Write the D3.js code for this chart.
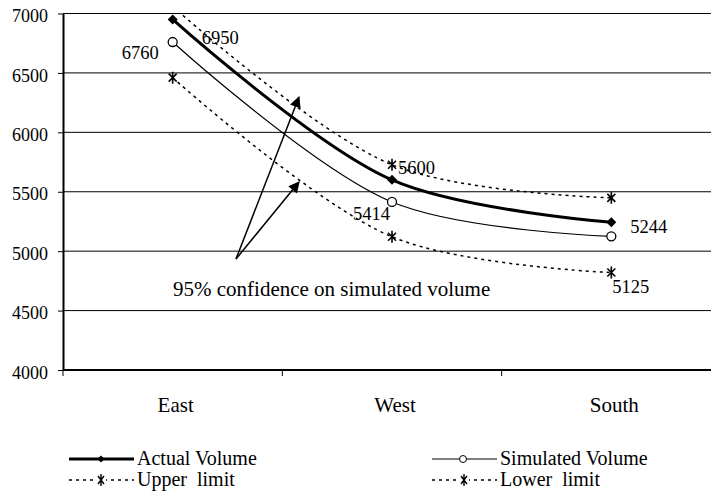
<!DOCTYPE html>
<html>
<head>
<meta charset="utf-8">
<script src="https://cdn.jsdelivr.net/npm/d3@7"></script>
<style>
  body { margin: 0; background: #fff; }
  text { font-family: "Liberation Serif", "Times New Roman", serif; fill: #000; white-space: pre; }
</style>
</head>
<body>
<div id="chart"></div>
<script>
const categories = ["East", "West", "South"]
const actualVolume = [6950, 5600, 5244]
const simulatedVolume = [6760, 5414, 5125]
const upperLimit = [7060, 5727, 5449]
const lowerLimit = [6460, 5121, 4820]
const yTicks = [4000, 4500, 5000, 5500, 6000, 6500, 7000]
const pointLabels = [
  { text: "6950", cat: "East", value: 6950, dx: 29, dy: 25 },
  { text: "6760", cat: "East", value: 6760, dx: -51, dy: 17 },
  { text: "5600", cat: "West", value: 5600, dx: 6, dy: -6 },
  { text: "5414", cat: "West", value: 5414, dx: -39, dy: 18 },
  { text: "5244", cat: "South", value: 5244, dx: 19, dy: 11 },
  { text: "5125", cat: "South", value: 5125, dx: 1, dy: 57 }
]

const W = 711, H = 491
const MARGIN = { TOP: 13.5, LEFT: 63, BOTTOM: 121, RIGHT: -10 }

const svg = d3.select("#chart").append("svg")
  .attr("width", W)
  .attr("height", H)

const x = d3.scaleBand()
  .domain(categories)
  .range([MARGIN.LEFT, W - MARGIN.RIGHT])

const y = d3.scaleLinear()
  .domain([4000, 7000])
  .range([H - MARGIN.BOTTOM, MARGIN.TOP])

const cx = c => x(c) + x.bandwidth() / 2

const defs = svg.append("defs")
defs.append("clipPath").attr("id", "plot-clip")
  .append("rect")
    .attr("x", MARGIN.LEFT)
    .attr("y", MARGIN.TOP)
    .attr("width", W - MARGIN.LEFT)
    .attr("height", y(4000) - MARGIN.TOP)

defs.append("marker")
  .attr("id", "arrow")
  .attr("viewBox", "0 0 10 10")
  .attr("refX", 9)
  .attr("refY", 5)
  .attr("markerWidth", 10)
  .attr("markerHeight", 7.5)
  .attr("markerUnits", "strokeWidth")
  .attr("orient", "auto")
  .append("path")
    .attr("d", "M0,0 L10,5 L0,10 Z")
    .attr("fill", "#000")

// gridlines
svg.append("g")
  .selectAll("line")
  .data(yTicks.filter(d => d > 4000))
  .join("line")
    .attr("x1", MARGIN.LEFT)
    .attr("x2", W)
    .attr("y1", d => y(d))
    .attr("y2", d => y(d))
    .attr("stroke", "#000")
    .attr("stroke-width", 1)

// y axis
const yAxis = svg.append("g")
  .attr("transform", `translate(${MARGIN.LEFT},0)`)
  .call(d3.axisLeft(y).tickValues(yTicks).tickSize(5).tickSizeOuter(0).tickPadding(10).tickFormat(d3.format("d")))
yAxis.select(".domain").attr("stroke-width", 2)
yAxis.selectAll("text")
  .attr("font-size", 18)
  .attr("font-family", "Liberation Serif")
  .attr("dy", "0.45em")

// x axis
const xAxisG = svg.append("g")
  .attr("transform", `translate(0,${y(4000)})`)
xAxisG.append("line")
  .attr("x1", MARGIN.LEFT)
  .attr("x2", W)
  .attr("stroke", "#000")
  .attr("stroke-width", 2)
xAxisG.selectAll(".xtick")
  .data(categories)
  .join("line")
    .attr("class", "xtick")
    .attr("x1", d => x(d))
    .attr("x2", d => x(d))
    .attr("y1", 0)
    .attr("y2", 6)
    .attr("stroke", "#000")
xAxisG.selectAll(".xlabel")
  .data(categories)
  .join("text")
    .attr("class", "xlabel")
    .attr("x", d => cx(d) + 3)
    .attr("y", 42)
    .attr("text-anchor", "middle")
    .attr("font-size", 21)
    .text(d => d)

const series = [
  { name: "Actual Volume", values: actualVolume, width: 3, dash: null, marker: "diamond" },
  { name: "Simulated Volume", values: simulatedVolume, width: 1.2, dash: null, marker: "circle" },
  { name: "Upper  limit", values: upperLimit, width: 1.5, dash: "3,4", marker: "star" },
  { name: "Lower  limit", values: lowerLimit, width: 1.5, dash: "3,4", marker: "star" }
]

const line = d3.line()
  .x((d, i) => cx(categories[i]))
  .y(d => y(d))
  .curve(d3.curveCatmullRom.alpha(0.5))

const plot = svg.append("g").attr("clip-path", "url(#plot-clip)")

function drawMarker(g, type) {
  if (type === "diamond") {
    g.append("path").attr("d", "M0,-5 L5,0 L0,5 L-5,0 Z").attr("fill", "#000")
  } else if (type === "circle") {
    g.append("circle").attr("r", 4.5).attr("fill", "#fff").attr("stroke", "#000").attr("stroke-width", 1.3)
  } else {
    g.append("path")
      .attr("d", "M-4,-4 L4,4 M-4,4 L4,-4 M0,-6 L0,6")
      .attr("stroke", "#000")
      .attr("stroke-width", 1.6)
      .attr("fill", "none")
  }
}

series.forEach(s => {
  plot.append("path")
    .datum(s.values)
    .attr("d", line)
    .attr("fill", "none")
    .attr("stroke", "#000")
    .attr("stroke-width", s.width)
    .attr("stroke-dasharray", s.dash)
  s.values.forEach((v, i) => {
    const g = plot.append("g").attr("transform", `translate(${cx(categories[i])},${y(v)})`)
    drawMarker(g, s.marker)
  })
})

// data labels
svg.append("g")
  .selectAll("text")
  .data(pointLabels)
  .join("text")
    .attr("x", d => cx(d.cat) + d.dx)
    .attr("y", d => y(d.value) + d.dy)
    .attr("font-size", 18.5)
    .text(d => d.text)

// annotation with arrows
const ann = svg.append("g")
const from = [236, 259]
;[[299, 97], [299, 182]].forEach(t => {
  ann.append("line")
    .attr("x1", from[0]).attr("y1", from[1])
    .attr("x2", t[0]).attr("y2", t[1])
    .attr("stroke", "#000")
    .attr("stroke-width", 1.5)
    .attr("marker-end", "url(#arrow)")
})
ann.append("text")
  .attr("x", 173)
  .attr("y", 296)
  .attr("font-size", 21)
  .text("95% confidence on simulated volume")

// legend
const legendPos = [[69, 459], [432, 459], [69, 480], [432, 480]]
series.forEach((s, i) => {
  const [lx, ly] = legendPos[i]
  const g = svg.append("g").attr("transform", `translate(${lx},${ly})`)
  g.append("line")
    .attr("x1", 0).attr("x2", 65)
    .attr("stroke", "#000")
    .attr("stroke-width", s.width)
    .attr("stroke-dasharray", s.dash)
  const m = g.append("g").attr("transform", `translate(${s.marker === "circle" ? 31 : 32},0)`)
  if (s.marker === "diamond") {
    m.append("path").attr("d", "M0,-3.5 L3.5,0 L0,3.5 L-3.5,0 Z").attr("fill", "#000")
  } else if (s.marker === "circle") {
    m.append("circle").attr("r", 3.5).attr("fill", "#fff").attr("stroke", "#000")
  } else {
    m.append("rect").attr("x", -5).attr("y", -7).attr("width", 10).attr("height", 14).attr("fill", "#fff")
    m.append("path").attr("d", "M-3,-4 L3,4 M-3,4 L3,-4 M0,-6 L0,6").attr("stroke", "#000").attr("stroke-width", 1.4)
  }
  g.append("text")
    .attr("x", 68)
    .attr("y", 6)
    .attr("font-size", 20)
    .text(s.name)
})
</script>
</body>
</html>
